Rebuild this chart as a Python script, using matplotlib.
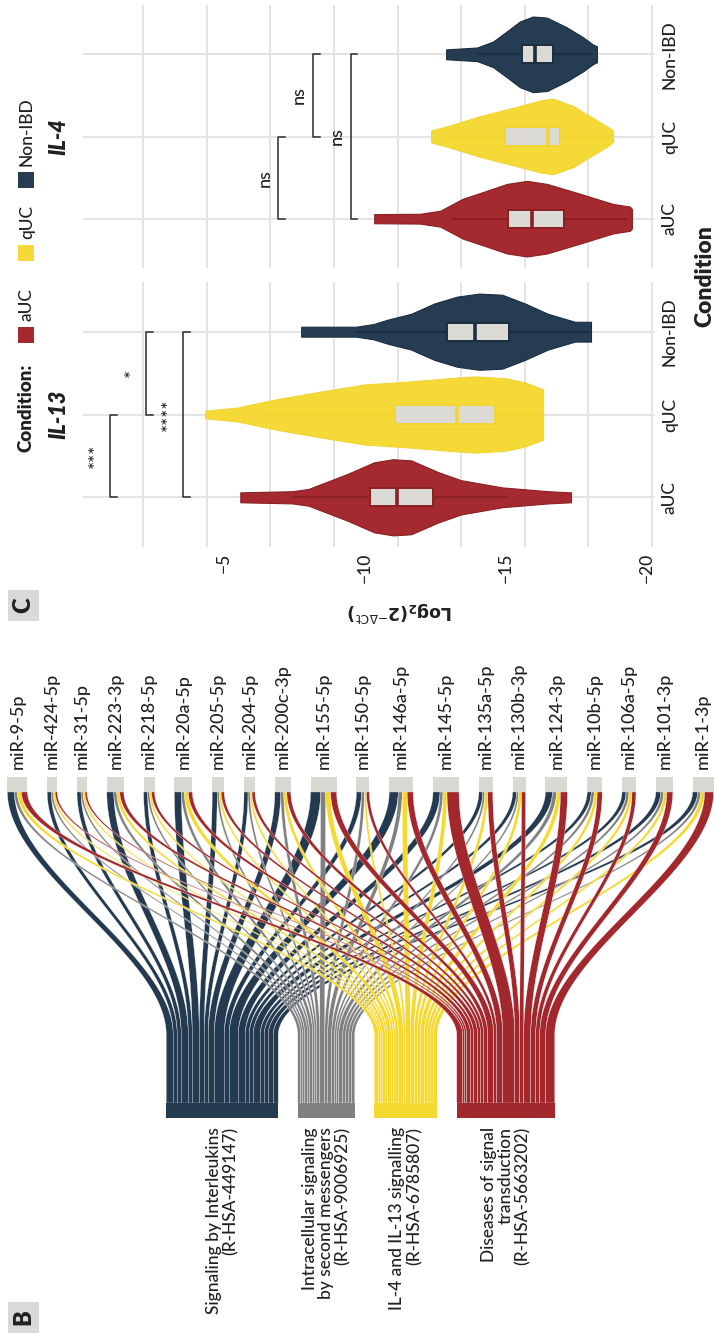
import numpy as np
import matplotlib
matplotlib.use("Agg")
import matplotlib.pyplot as plt
from matplotlib.patches import Rectangle

plt.rcParams['font.family'] = ['Lato', 'DejaVu Sans']
plt.rcParams['font.weight'] = 'medium'
plt.rcParams['mathtext.fontset'] = 'dejavusans'

# ---------------- panel B : miRNA -> Reactome pathway ----------------
mirnas = ['miR-9-5p', 'miR-424-5p', 'miR-31-5p', 'miR-223-3p', 'miR-218-5p',
          'miR-20a-5p', 'miR-205-5p', 'miR-204-5p', 'miR-200c-3p', 'miR-155-5p',
          'miR-150-5p', 'miR-146a-5p', 'miR-145-5p', 'miR-135a-5p', 'miR-130b-3p',
          'miR-124-3p', 'miR-10b-5p', 'miR-106a-5p', 'miR-101-3p', 'miR-1-3p']
pathways = ['Signaling by Interleukins\n(R-HSA-449147)',
            'Intracellular signaling\nby second messengers\n(R-HSA-9006925)',
            'IL-4 and IL-13 signalling\n(R-HSA-6785807)',
            'Diseases of signal\ntransduction\n(R-HSA-5663202)']
links_interleukins = [7, 4, 4, 7, 4, 7, 5, 4, 6, 10, 5, 9, 7, 4, 4, 7, 4, 4, 5, 5]
links_second_msg   = [3, 2, 2, 3, 2, 3, 2, 2, 3, 5, 3, 4, 3, 2, 2, 4, 3, 3, 3, 3]
links_il4_il13     = [4, 2, 2, 3, 2, 4, 2, 2, 3, 5, 2, 5, 4, 3, 3, 4, 3, 3, 3, 4]
links_signal_dis   = [6, 2, 2, 4, 3, 4, 3, 3, 4, 6, 3, 6, 12, 5, 4, 7, 5, 4, 6, 9]

# ---------------- panel C : IL-13 / IL-4 expression ----------------
conditions = ['aUC', 'qUC', 'Non-IBD']

# violin outlines: log2 value and relative density
il13_auc_val = [-5.58, -7.42, -8.0, -8.42, -9.37, -10.33, -11.0, -11.64, -12.6, -13.41, -14.87, -16.5, -17.31]
il13_auc_den = [0.13, 0.16, 0.22, 0.34, 0.61, 0.92, 1.0, 0.97, 0.66, 0.45, 0.26, 0.16, 0.13]
il13_quc_val = [-4.34, -5.47, -6.79, -8.42, -10.01, -11.64, -13.27, -13.91, -15.0, -15.68, -16.32]
il13_quc_den = [0.1, 0.18, 0.39, 0.6, 0.79, 0.87, 0.97, 1.0, 0.95, 0.84, 0.66]
il13_non_val = [-7.74, -9.69, -10.3, -10.83, -11.64, -12.46, -13.27, -14.05, -14.87, -15.68, -16.49, -17.45, -18.02]
il13_non_den = [0.13, 0.13, 0.2, 0.32, 0.47, 0.74, 0.92, 1.0, 0.97, 0.74, 0.47, 0.26, 0.26]

il4_auc_val = [-10.33, -11.96, -12.67, -13.1, -13.48, -14.33, -15.04, -15.75, -16.46, -17.63, -18.8, -19.4, -19.47]
il4_auc_den = [0.12, 0.13, 0.21, 0.38, 0.53, 0.74, 0.92, 1.0, 0.92, 0.66, 0.39, 0.32, 0.26]
il4_quc_val = [-12.35, -12.92, -14.09, -15.26, -16.21, -16.67, -17.38, -18.09, -18.69, -18.8]
il4_quc_den = [0.16, 0.27, 0.54, 0.76, 0.95, 1.0, 0.81, 0.49, 0.22, 0.14]
il4_non_val = [-12.88, -13.98, -14.55, -15.04, -15.5, -15.96, -16.46, -17.17, -17.74, -18.09, -18.23]
il4_non_den = [0.13, 0.18, 0.34, 0.61, 0.87, 1.0, 0.97, 0.71, 0.45, 0.26, 0.21]

# box statistics per condition (aUC, qUC, Non-IBD)
il13_q1 = [-10.19, -11.07, -12.92]
il13_med = [-11.14, -13.27, -13.91]
il13_q3 = [-12.42, -14.62, -15.11]
il13_wlo = [-7.42, -6.5, -9.69]
il13_whi = [-15.04, -16.3, -17.95]

il4_q1 = [-15.08, -14.97, -15.57]
il4_med = [-15.93, -16.5, -16.03]
il4_q3 = [-17.06, -16.92, -16.67]
il4_wlo = [-13.09, -12.9, -13.98]
il4_whi = [-19.29, -18.7, -18.09]

# pairwise comparisons
sig_pairs = [('aUC', 'qUC'), ('qUC', 'Non-IBD'), ('aUC', 'Non-IBD')]
il13_sig = ['***', '*', '****']
il13_sig_at = [-0.97, -2.25, -3.56]
il4_sig = ['ns', 'ns', 'ns']
il4_sig_at = [-6.93, -8.17, -9.51]

# ---------------- style ----------------
W, H = 714, 1338
TXT = '#231F20'
NAVY, GREY, YELLOW, RED = '#243A50', '#808080', '#F5D92E', '#A3282D'
path_colors = [NAVY, GREY, YELLOW, RED]
fill_c = {'aUC': '#A52A2F', 'qUC': '#F5D937', 'Non-IBD': '#253C53'}
edge_c = {'aUC': '#8A1F24', 'qUC': '#F2D531', 'Non-IBD': '#1B2D40'}
BOX_FILL = '#DCDAD5'
GRID_C = '#E4E4E4'

fig = plt.figure(figsize=(W / 100, H / 100), dpi=100)

# ---- alluvial panel, drawn in pixel units ----
axs = fig.add_axes([0, 0, 1, 1], zorder=0)
axs.set_xlim(0, W)
axs.set_ylim(H, 0)
axs.axis('off')

links = np.array([links_interleukins, links_second_msg, links_il4_il13, links_signal_dis], float)
mir_tot = links.sum(axis=0)
path_tot = links.sum(axis=1)
CENTER = 360.5
GAP_MIR, GAP_PATH = 19.8, 19.5
Y_MIR_TOP, Y_MIR, Y_BEND, Y_PATH, Y_PATH_BOT = 777, 792, 1035, 1103, 1118

mir_left = CENTER - (mir_tot.sum() + GAP_MIR * (len(mirnas) - 1)) / 2 + \
    np.r_[0, np.cumsum(mir_tot[:-1] + GAP_MIR)]
path_left = CENTER - (path_tot.sum() + GAP_PATH * (len(pathways) - 1)) / 2 + \
    np.r_[0, np.cumsum(path_tot[:-1] + GAP_PATH)]

# s-shaped ribbon between the miRNA row and the straight run into each pathway
t = np.linspace(0, 1, 80)
s = np.r_[t * t * (3 - 2 * t), 1.0]
ys = np.r_[Y_MIR + (Y_BEND - Y_MIR) * t, Y_PATH]
for j in range(len(pathways)):
    for i in range(len(mirnas)):
        w = links[j, i]
        a = mir_left[i] + links[:j, i].sum()
        b = path_left[j] + links[j, :i].sum()
        left = a + (b - a) * s
        xs = np.r_[left, (left + w)[::-1]]
        axs.fill(xs, np.r_[ys, ys[::-1]], facecolor=path_colors[j],
                 edgecolor='white', linewidth=0.2, zorder=2)

for i, name in enumerate(mirnas):
    axs.add_patch(Rectangle((mir_left[i], Y_MIR_TOP), mir_tot[i], Y_MIR - Y_MIR_TOP,
                            facecolor='#D9D8D2', edgecolor='none', zorder=3))
    axs.text(mir_left[i] + mir_tot[i] / 2, 769, name, rotation=90, ha='center',
             va='bottom', fontsize=13, color=TXT)

for j, name in enumerate(pathways):
    axs.add_patch(Rectangle((path_left[j], Y_PATH), path_tot[j], Y_PATH_BOT - Y_PATH,
                            facecolor=path_colors[j], edgecolor='none', zorder=3))
    axs.text(path_left[j] + path_tot[j] / 2, 1127, name, rotation=90, ha='center',
             va='top', multialignment='right', fontsize=12.5, color=TXT,
             linespacing=1.05)

# ---- violin facets ----
XMIN, XMAX = 0, -20.29
GRID = np.linspace(-2.14, -20.18, 9)
HALF = 0.46
BOXH = 0.11


def facet(rect, title, vals, dens, q1, med, q3, wlo, whi, sig, sig_at, show_x):
    ax = fig.add_axes(rect, zorder=1)
    ax.set_facecolor('none')
    ax.set_xlim(XMIN, XMAX)
    ax.set_ylim(0.4, 3.6)
    for sp in ax.spines.values():
        sp.set_visible(False)
    ax.set_axisbelow(True)
    ax.set_xticks(GRID, minor=True)
    ax.set_xticks([-5, -10, -15, -20])
    ax.xaxis.grid(True, which='minor', color=GRID_C, lw=1.4)
    ax.xaxis.grid(False, which='major')
    ax.set_yticks([1, 2, 3])
    ax.yaxis.grid(True, which='major', color=GRID_C, lw=1.4)
    ax.yaxis.tick_right()
    ax.set_yticklabels(conditions, rotation=90, va='center', fontsize=12.5, color=TXT)
    ax.tick_params(which='both', length=0)
    ax.tick_params(axis='y', pad=5)
    if show_x:
        ax.set_xticklabels(['\u22125', '\u221210', '\u221215', '\u221220'],
                           rotation=90, fontsize=12.5, color=TXT)
        ax.tick_params(axis='x', pad=4)
    else:
        ax.tick_params(axis='x', labelbottom=False)

    for k, cond in enumerate(conditions):
        pos = k + 1
        v = np.asarray(vals[k])
        hw = np.asarray(dens[k]) * HALF
        ax.fill_between(v, pos - hw, pos + hw, facecolor=fill_c[cond],
                        edgecolor=edge_c[cond], lw=0.8, zorder=2)
        ax.plot([wlo[k], whi[k]], [pos, pos], color=edge_c[cond], lw=1.6,
                solid_capstyle='butt', zorder=3)
        ax.add_patch(Rectangle((q1[k], pos - BOXH), q3[k] - q1[k], 2 * BOXH,
                               facecolor=BOX_FILL, edgecolor=edge_c[cond], lw=1.4, zorder=4))
        ax.plot([med[k], med[k]], [pos - BOXH, pos + BOXH], color=edge_c[cond],
                lw=2.6, solid_capstyle='butt', zorder=5)

    tip = 0.22
    for (c1, c2), lab, x in zip(sig_pairs, sig, sig_at):
        y1, y2 = conditions.index(c1) + 1, conditions.index(c2) + 1
        ax.plot([x - tip, x, x, x - tip], [y1, y1, y2, y2], color='#2B2B2B',
                lw=1.1, zorder=3)
        ax.text(x + 0.5, (y1 + y2) / 2, lab, rotation=90, ha='center', va='center',
                fontsize=13 if lab == 'ns' else 14, color=TXT)

    ax.text(-0.042, 0.5, title, transform=ax.transAxes, rotation=90, ha='center',
            va='center', fontsize=15.5, fontweight='heavy', fontstyle='italic', color=TXT)
    return ax


facet([83 / W, 1 - 268 / H, 572 / W, 263 / H], 'IL-4',
      [il4_auc_val, il4_quc_val, il4_non_val], [il4_auc_den, il4_quc_den, il4_non_den],
      il4_q1, il4_med, il4_q3, il4_wlo, il4_whi, il4_sig, il4_sig_at, False)
facet([83 / W, 1 - 547 / H, 572 / W, 265 / H], 'IL-13',
      [il13_auc_val, il13_quc_val, il13_non_val], [il13_auc_den, il13_quc_den, il13_non_den],
      il13_q1, il13_med, il13_q3, il13_wlo, il13_whi, il13_sig, il13_sig_at, True)

# axis titles
fig.text(705 / W, 1 - 276 / H, 'Condition', rotation=90, ha='center', va='center',
         fontsize=16.5, fontweight='heavy', color=TXT)
fig.text(400 / W, 1 - 611 / H,
         r'$\mathbf{Log_2(2}^{\mathsf{-\Delta Ct}}\mathbf{)}$',
         rotation=180, ha='center', va='center', fontsize=12.5, color=TXT)

# legend
fig.text(26 / W, 1 - 452 / H, 'Condition:', rotation=90, ha='center', va='bottom',
         fontsize=13.5, fontweight='heavy', color=TXT)
key_y = [335, 253, 180]
for cond, ky in zip(conditions, key_y):
    fig.patches.append(Rectangle((18 / W, 1 - (ky + 8) / H), 16 / W, 16 / H,
                                 transform=fig.transFigure, facecolor=fill_c[cond],
                                 edgecolor='none'))
    fig.text(27 / W, 1 - (ky - 14) / H, cond, rotation=90, ha='center', va='bottom',
             fontsize=12.5, color=TXT)


# panel tags
def panel_tag(letter, x0, y0):
    fig.patches.append(Rectangle((x0 / W, 1 - (y0 + 31) / H), 31 / W, 31 / H,
                                 transform=fig.transFigure, facecolor='#D9D9D9',
                                 edgecolor='none'))
    fig.text((x0 + 15.5) / W, 1 - (y0 + 15.5) / H, letter, rotation=90, ha='center',
             va='center', fontsize=17, fontweight='heavy', color=TXT)


panel_tag('C', 8, 590)
panel_tag('B', 8, 1302)

fig.savefig('out.png', dpi=100, facecolor='white')
